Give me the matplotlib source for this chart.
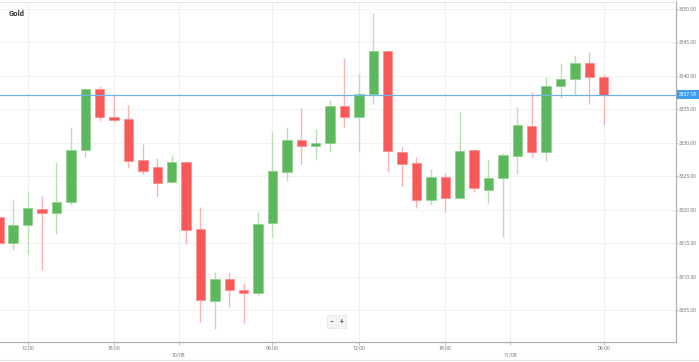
import numpy as np
import matplotlib
matplotlib.use("Agg")
import matplotlib.pyplot as plt
from matplotlib.lines import Line2D

plt.rcParams['font.family'] = ['Roboto', 'DejaVu Sans']

# hourly OHLC candles
opens = [3318.98, 3315.10, 3317.70, 3320.18, 3319.49, 3321.18, 3328.94, 3338.01, 3333.83, 3333.57,
         3327.40, 3326.45, 3324.12, 3327.11, 3317.10, 3306.39, 3309.68, 3308.08, 3307.59, 3318.04,
         3325.70, 3330.48, 3329.54, 3329.94, 3335.51, 3333.83, 3337.26, 3343.77, 3328.69, 3326.96,
         3321.52, 3324.96, 3321.77, 3328.94, 3322.92, 3324.72, 3328.09, 3332.53, 3328.69, 3338.50,
         3339.55, 3341.98, 3339.84]
highs = [3319.53, 3321.63, 3322.82, 3322.07, 3327.15, 3332.42, 3338.20, 3338.50, 3337.26, 3335.62,
         3329.88, 3327.70, 3328.24, 3327.15, 3320.39, 3310.72, 3310.72, 3309.04, 3319.61, 3331.59,
         3332.42, 3335.17, 3332.08, 3336.41, 3342.64, 3340.49, 3349.36, 3343.77, 3329.54, 3327.85,
         3326.11, 3325.55, 3334.66, 3329.02, 3327.60, 3328.45, 3335.41, 3337.65, 3339.80, 3341.89,
         3343.13, 3343.62, 3340.29]
lows = [3314.61, 3314.01, 3313.41, 3311.07, 3316.44, 3320.77, 3327.90, 3333.27, 3333.12, 3326.21,
        3325.31, 3321.97, 3324.06, 3314.86, 3303.26, 3302.25, 3305.45, 3303.15, 3307.18, 3315.91,
        3324.31, 3326.66, 3327.40, 3328.69, 3332.42, 3328.60, 3335.86, 3325.70, 3323.52, 3320.33,
        3320.68, 3319.64, 3321.70, 3322.67, 3320.98, 3315.95, 3325.40, 3327.85, 3327.34, 3336.75,
        3337.16, 3335.77, 3332.68]
closes = [3315.01, 3317.74, 3320.28, 3319.49, 3321.13, 3328.99, 3338.01, 3333.83, 3333.35, 3327.34,
          3325.81, 3324.01, 3327.11, 3316.92, 3306.59, 3309.68, 3307.99, 3307.63, 3317.89, 3325.81,
          3330.44, 3329.54, 3330.03, 3335.51, 3333.83, 3337.35, 3343.77, 3328.75, 3326.82, 3321.48,
          3324.96, 3321.77, 3328.84, 3323.31, 3324.72, 3328.15, 3332.63, 3328.69, 3338.46, 3339.55,
          3341.98, 3339.84, 3337.18]

time_ticks = [2, 8, 19, 25, 31, 42]
time_labels = ['12:00', '18:00', '06:00', '12:00', '18:00', '06:00']
date_ticks = [12.5, 35.5]
date_labels = ['10/08', '11/08']
price_ticks = [3305, 3310, 3315, 3320, 3325, 3330, 3335, 3340, 3345, 3350]
last_price = 3337.18

up_body, up_wick = '#5cb85c', '#b9e0b5'
dn_body, dn_wick = '#f85a5a', '#f9b3b3'

fig = plt.figure(figsize=(6.99, 3.62), dpi=100)
ax = fig.add_axes([0, 20 / 362, 676 / 699, 340.5 / 362])

x = np.arange(len(opens))
o = np.array(opens)
c = np.array(closes)
up = c >= o
body_col = np.where(up, up_body, dn_body)
wick_col = np.where(up, up_wick, dn_wick)

ax.vlines(x, lows, highs, colors=wick_col, linewidth=1.0, zorder=2)
ax.bar(x, np.abs(c - o), bottom=np.minimum(o, c), width=0.66,
       color=body_col, edgecolor=np.where(up, '#8fd08a', '#fb8a8a'),
       linewidth=0.5, zorder=3)

ax.axhline(last_price, color='#6cb4ea', linewidth=0.9, zorder=4)

ax.set_xlim(0.08, 47.02)
ax.set_ylim(3300.27, 3351.1)

# grid
for v in price_ticks:
    ax.axhline(v, color='#f2f2f2', linewidth=0.8, zorder=0)
for v in time_ticks + date_ticks:
    ax.axvline(v, color='#f0f0f0', linewidth=0.8, zorder=0)

ax.set_xticks(time_ticks)
ax.set_xticklabels(time_labels)
ax.set_xticks(date_ticks, minor=True)
ax.set_xticklabels(date_labels, minor=True)
ax.tick_params(axis='x', which='major', length=2.2, width=0.6, color='#b0b0b0',
               labelsize=3.8, labelcolor='#7a7a7a', pad=1.0)
ax.tick_params(axis='x', which='minor', length=2.2, width=0.6, color='#b0b0b0',
               labelsize=3.8, labelcolor='#7a7a7a', pad=5.5)

ax.yaxis.tick_right()
ax.set_yticks(price_ticks)
ax.set_yticklabels([f'{v:.2f}' for v in price_ticks])
ax.tick_params(axis='y', length=1.5, width=0.6, color='#b0b0b0',
               labelsize=3.6, labelcolor='#7a7a7a', pad=0.8)

for side in ['left']:
    ax.spines[side].set_visible(False)
ax.spines['top'].set_color('#e6e6e6')
ax.spines['top'].set_linewidth(0.8)
for side in ['right', 'bottom']:
    ax.spines[side].set_color('#b0b0b0')
    ax.spines[side].set_linewidth(0.9)

ax.annotate(f'{last_price:.2f}', xy=(1, last_price), xycoords=('axes fraction', 'data'),
            xytext=(2.2, 0), textcoords='offset points', ha='left', va='center',
            fontsize=3.6, color='white', zorder=6, annotation_clip=False,
            bbox=dict(boxstyle='square,pad=0.35', fc='#3d9ef0', ec='none'))

ax.text(0.013, 0.965, 'Gold', transform=ax.transAxes, fontsize=5.5,
        fontweight='bold', color='#333333', ha='left', va='center')

# zoom buttons
ax.text(0.490, 0.06, '\u2212', transform=ax.transAxes, fontsize=5, color='#555555',
        ha='center', va='center', fontweight='bold',
        bbox=dict(boxstyle='square,pad=0.35', fc='#f4f4f4', ec='#e4e4e4', lw=0.5))
ax.text(0.506, 0.06, '+', transform=ax.transAxes, fontsize=5, color='#555555',
        ha='center', va='center', fontweight='bold',
        bbox=dict(boxstyle='square,pad=0.35', fc='#f4f4f4', ec='#e4e4e4', lw=0.5))

fig.add_artist(Line2D([0, 1], [2 / 362, 2 / 362], color='#e8e8e8', linewidth=0.8))

fig.savefig('out.png', dpi=100)
